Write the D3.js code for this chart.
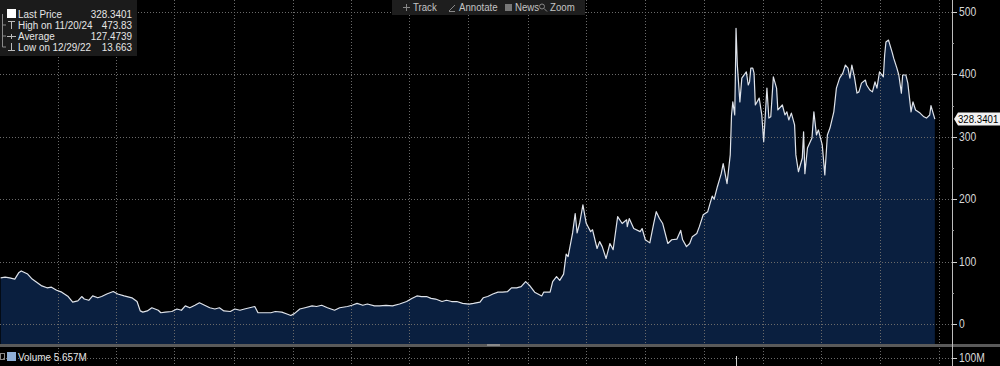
<!DOCTYPE html>
<html lang="en">
<head>
<meta charset="utf-8">
<script src="https://d3js.org/d3.v7.min.js"></script>
<style>
  html, body { margin: 0; padding: 0; background: #000; }
  svg { display: block; font-family: "Liberation Sans", Arial, sans-serif; }
</style>
</head>
<body>
<script>
// price history (close)
var dates = [
  "2021-10-04","2021-10-11","2021-10-18","2021-10-26","2021-11-01","2021-11-05","2021-11-15","2021-11-22","2021-11-29","2021-12-07","2021-12-15","2021-12-22","2021-12-30",
  "2022-01-07","2022-01-17","2022-01-24","2022-02-01","2022-02-07","2022-02-11","2022-02-18","2022-02-24","2022-03-04","2022-03-10","2022-03-18","2022-03-28","2022-04-04","2022-04-14","2022-04-26",
  "2022-05-04","2022-05-09","2022-05-13","2022-05-20","2022-05-27","2022-06-06","2022-06-10","2022-06-17","2022-06-27","2022-07-05","2022-07-12","2022-07-18","2022-07-25","2022-08-02","2022-08-09",
  "2022-08-17","2022-08-25","2022-09-02","2022-09-09","2022-09-16","2022-09-26","2022-10-03","2022-10-11","2022-10-18","2022-10-26","2022-11-03","2022-11-08","2022-11-16","2022-11-28","2022-12-05",
  "2022-12-15","2022-12-23","2022-12-29",
  "2023-01-04","2023-01-12","2023-01-20","2023-01-31","2023-02-07","2023-02-15","2023-02-24","2023-03-07","2023-03-15","2023-03-27","2023-04-03","2023-04-11","2023-04-20","2023-04-27",
  "2023-05-08","2023-05-16","2023-05-26","2023-06-05","2023-06-16","2023-06-27","2023-07-05","2023-07-13","2023-07-20","2023-07-28","2023-08-04","2023-08-11","2023-08-21","2023-08-28",
  "2023-09-05","2023-09-13","2023-09-22","2023-10-02","2023-10-09","2023-10-19","2023-10-24","2023-10-31","2023-11-08","2023-11-16","2023-11-23","2023-12-01","2023-12-07","2023-12-15",
  "2023-12-22","2023-12-29",
  "2024-01-04","2024-01-12","2024-01-23","2024-01-26","2024-02-05","2024-02-09","2024-02-15","2024-02-20","2024-02-26","2024-03-01","2024-03-04","2024-03-11","2024-03-15","2024-03-18",
  "2024-03-22","2024-03-27","2024-04-01","2024-04-04","2024-04-08","2024-04-11","2024-04-18","2024-04-22","2024-04-26","2024-05-02","2024-05-08","2024-05-13","2024-05-20","2024-05-27",
  "2024-06-03","2024-06-04","2024-06-07","2024-06-14","2024-06-24","2024-06-27","2024-07-02","2024-07-09","2024-07-15","2024-07-19","2024-07-24","2024-07-29","2024-08-06","2024-08-12",
  "2024-08-20","2024-08-26","2024-08-29","2024-09-04","2024-09-09","2024-09-13","2024-09-20","2024-09-24","2024-09-30","2024-10-07","2024-10-10","2024-10-14","2024-10-17","2024-10-22",
  "2024-10-28","2024-10-31","2024-11-06","2024-11-11","2024-11-13","2024-11-15","2024-11-18","2024-11-19","2024-11-20","2024-11-22","2024-11-26","2024-11-29","2024-12-06","2024-12-09",
  "2024-12-11","2024-12-13","2024-12-16","2024-12-18","2024-12-20","2024-12-26","2024-12-30",
  "2025-01-02","2025-01-07","2025-01-10","2025-01-13","2025-01-17","2025-01-22","2025-01-24","2025-01-31","2025-02-04","2025-02-07","2025-02-10","2025-02-14","2025-02-19","2025-02-21",
  "2025-02-25","2025-03-03","2025-03-05","2025-03-07","2025-03-11","2025-03-18","2025-03-21","2025-03-25","2025-03-28","2025-04-03","2025-04-07","2025-04-11","2025-04-15","2025-04-21",
  "2025-04-25","2025-04-30","2025-05-05","2025-05-09","2025-05-13","2025-05-16","2025-05-19","2025-05-23","2025-05-27","2025-05-30","2025-06-03","2025-06-09","2025-06-11","2025-06-16",
  "2025-06-20","2025-06-24","2025-06-27","2025-07-01","2025-07-07","2025-07-09","2025-07-11","2025-07-15","2025-07-21","2025-07-23","2025-07-28","2025-07-31","2025-08-04","2025-08-06",
  "2025-08-11","2025-08-14","2025-08-19","2025-08-22","2025-08-26","2025-09-02","2025-09-08","2025-09-12","2025-09-17","2025-09-19","2025-09-25"
];
var closes = [
  74,75,74,72,82,85,80,72,67,61,58,59,54,
  51,44,35,37,44,40,38,45,42,44,48,52,48,45,42,
  36,21,19,21,26,22,18,19,20,24,22,29,26,30,34,
  30,26,24,26,21,20,24,22,24,26,28,18,18,18,20,
  19,16,13.663,
  17,24,26,29,28,30,26,22,26,28,30,33,30,32,
  29,29,30,29,32,36,41,45,44,44,41,40,36,38,
  36,36,33,32,33,35,42,44,48,51,51,52,58,58,
  60,68,
  62,51,45,51,51,68,76,70,80,112,108,146,177,146,
  162,191,162,156,148,151,121,132,124,105,129,119,172,161,
  167,156,169,153,148,153,135,130,161,180,169,161,129,135,
  136,150,135,124,129,140,145,156,175,180,191,205,200,220,
  241,257,225,271,335,356,335,399,473.83,415,356,394,404,383,
  388,410,410,402,351,362,335,
  292,378,330,332,396,378,343,351,335,340,327,338,319,271,
  244,266,308,241,282,298,340,303,311,287,239,303,314,340,
  378,394,402,415,410,394,415,396,370,372,386,391,383,375,
  372,388,378,404,396,431,452,455,434,426,410,399,370,399,
  399,386,340,356,343,338,332,330,335,350,328.3401
];
var priceTicks = [0, 100, 200, 300, 400, 500];
var minorTicks = [50, 150, 250, 350, 450];
var volDates = ["2024-11-20"];
var volValues = [125e6];
var legendLabels = ["Last Price", "High on 11/20/24", "Average", "Low on 12/29/22"];
var legendValues = ["328.3401", "473.83", "127.4739", "13.663"];
var toolItems = ["Track", "Annotate", "News", "Zoom"];

const W = 1000, H = 366;
const axisX = 952, plotBottom = 344, sepY = 345;
const parse = d3.timeParse("%Y-%m-%d");
const data = dates.map((d, i) => ({ date: parse(d), v: closes[i] }));

const svg = d3.select("body").append("svg").attr("width", W).attr("height", H);
svg.append("rect").attr("width", W).attr("height", H).attr("fill", "#000");

// narrow text: squeeze horizontally like the terminal font
function label(g, tx, ty, str, opts) {
  opts = opts || {};
  return g.append("text")
    .attr("transform", `translate(${tx},${ty}) scale(${opts.k || 0.86},1)`)
    .attr("text-anchor", opts.anchor || "start")
    .attr("fill", opts.fill || "#e6e6e6")
    .attr("font-size", opts.size || 11.5)
    .text(str);
}

const x = d3.scaleTime()
  .domain([parse("2021-10-03"), parse("2025-10-01")])
  .range([0, 938.7]);
const y = d3.scaleLinear().domain([0, 500]).range([324, 12]);
const yVol = d3.scaleLinear().domain([0, 100e6]).range([366, 358]);

// area + line
const area = d3.area().x(d => x(d.date)).y0(plotBottom).y1(d => y(d.v));
svg.append("path").datum(data).attr("d", area).attr("fill", "#0a1f3f");

// gridlines
const grid = svg.append("g").attr("stroke", "#6a6a6a").attr("stroke-dasharray", "1,2").attr("stroke-width", 1);
grid.selectAll(".h").data(priceTicks).enter().append("line")
  .attr("x1", 0).attr("x2", axisX)
  .attr("y1", d => Math.round(y(d)) + 0.5).attr("y2", d => Math.round(y(d)) + 0.5);
grid.append("line").attr("x1", 0).attr("x2", axisX)
  .attr("y1", yVol(100e6) + 0.5).attr("y2", yVol(100e6) + 0.5);
const quarters = d3.timeMonth.every(3).range(parse("2022-01-01"), parse("2025-10-02"));
grid.selectAll(".v").data(quarters).enter().append("line")
  .attr("x1", d => Math.round(x(d)) + 0.5).attr("x2", d => Math.round(x(d)) + 0.5)
  .attr("y1", 0).attr("y2", H);

svg.append("path").datum(data)
  .attr("d", d3.line().x(d => x(d.date)).y(d => y(d.v)))
  .attr("fill", "none").attr("stroke", "#dfe3ea").attr("stroke-width", 1.2)
  .attr("stroke-linejoin", "round");

// volume spike
svg.selectAll(".vol").data(volDates).enter().append("line")
  .attr("x1", d => Math.round(x(parse(d))) + 0.5).attr("x2", d => Math.round(x(parse(d))) + 0.5)
  .attr("y1", (d, i) => yVol(volValues[i])).attr("y2", H)
  .attr("stroke", "#d0d0d0").attr("stroke-width", 1);

// separator between panels
svg.append("rect").attr("x", 0).attr("y", sepY - 1).attr("width", W).attr("height", 3).attr("fill", "#5a5a5a");
svg.append("rect").attr("x", 487).attr("y", sepY - 1).attr("width", 13).attr("height", 2).attr("fill", "#8a8a8a");

// right axis
svg.append("line").attr("x1", axisX + 0.5).attr("x2", axisX + 0.5).attr("y1", 0).attr("y2", H)
  .attr("stroke", "#bdbdbd").attr("stroke-width", 1);
const ax = svg.append("g");
ax.selectAll(".t").data(priceTicks).enter().append("line")
  .attr("x1", axisX).attr("x2", axisX + 5)
  .attr("y1", d => Math.round(y(d)) + 0.5).attr("y2", d => Math.round(y(d)) + 0.5)
  .attr("stroke", "#d0d0d0");
ax.selectAll(".m").data(minorTicks).enter().append("line")
  .attr("x1", axisX).attr("x2", axisX + 2)
  .attr("y1", d => Math.round(y(d)) + 0.5).attr("y2", d => Math.round(y(d)) + 0.5)
  .attr("stroke", "#9a9a9a");
priceTicks.forEach(t => label(ax, 959, y(t) + 4, t, { fill: "#d8d8d8", size: 12 }));
ax.append("line").attr("x1", axisX).attr("x2", axisX + 5)
  .attr("y1", yVol(100e6) + 0.5).attr("y2", yVol(100e6) + 0.5).attr("stroke", "#d0d0d0");
label(ax, 959, yVol(100e6) + 4, "100M", { fill: "#d8d8d8", size: 12 });

// last price tag
const lastY = y(closes[closes.length - 1]);
svg.append("path")
  .attr("d", `M${axisX + 2},${lastY} L${axisX + 6},${lastY - 6.5} L1000,${lastY - 6.5} L1000,${lastY + 6.5} L${axisX + 6},${lastY + 6.5} Z`)
  .attr("fill", "#f2f2f2");
label(svg, 958, lastY + 4, closes[closes.length - 1].toFixed(4), { fill: "#000", size: 11.5, k: 0.84 });

// legend box
const lg = svg.append("g");
lg.append("rect").attr("x", 0).attr("y", 0).attr("width", 137).attr("height", 56).attr("fill", "#1b1b1b");
lg.append("path").attr("d", "M2.5,14 V47 M2.5,25 H6 M2.5,36 H6 M2.5,47 H6")
  .attr("stroke", "#8a8a8a").attr("fill", "none");
lg.append("rect").attr("x", 7).attr("y", 9).attr("width", 9).attr("height", 9).attr("fill", "#fff");
lg.append("path").attr("d", "M8,21.5 H15 M11.5,21.5 V29").attr("stroke", "#bbb").attr("fill", "none");
lg.append("path").attr("d", "M7,36.5 H16 M11.5,34 V39").attr("stroke", "#bbb").attr("fill", "none");
lg.append("path").attr("d", "M8,50.5 H15 M11.5,43 V50.5").attr("stroke", "#bbb").attr("fill", "none");
legendLabels.forEach((s, i) => label(lg, 18, 18 + i * 11, s));
legendValues.forEach((s, i) => label(lg, 132, 18 + i * 11, s, { anchor: "end" }));

// toolbar
const tb = svg.append("g");
tb.append("rect").attr("x", 392).attr("y", 0).attr("width", 193).attr("height", 15).attr("fill", "#1e1e1e");
const toolX = [413, 459, 515, 550];
toolItems.forEach((s, i) => label(tb, toolX[i], 11, s, { fill: "#c4c4c4", size: 11.5, k: 0.84 }));
tb.append("path").attr("d", "M403,7.5 H410 M406.5,4 V11").attr("stroke", "#888");
tb.append("path").attr("d", "M449,11 L455,5 M449,11.5 H455").attr("stroke", "#888");
tb.append("rect").attr("x", 505).attr("y", 4).attr("width", 7).attr("height", 7).attr("fill", "#777");
tb.append("circle").attr("cx", 542).attr("cy", 6.5).attr("r", 2.5).attr("stroke", "#888").attr("fill", "none");
tb.append("path").attr("d", "M544,8.5 L547,11.5").attr("stroke", "#888");

// volume legend
const vl = svg.append("g");
vl.append("rect").attr("x", 0.5).attr("y", 353.5).attr("width", 4).attr("height", 6).attr("fill", "none").attr("stroke", "#888");
vl.append("rect").attr("x", 7).attr("y", 352).attr("width", 9).attr("height", 9).attr("fill", "#8eaed6");
label(vl, 18, 361, "Volume  5.657M");
</script>
</body>
</html>
